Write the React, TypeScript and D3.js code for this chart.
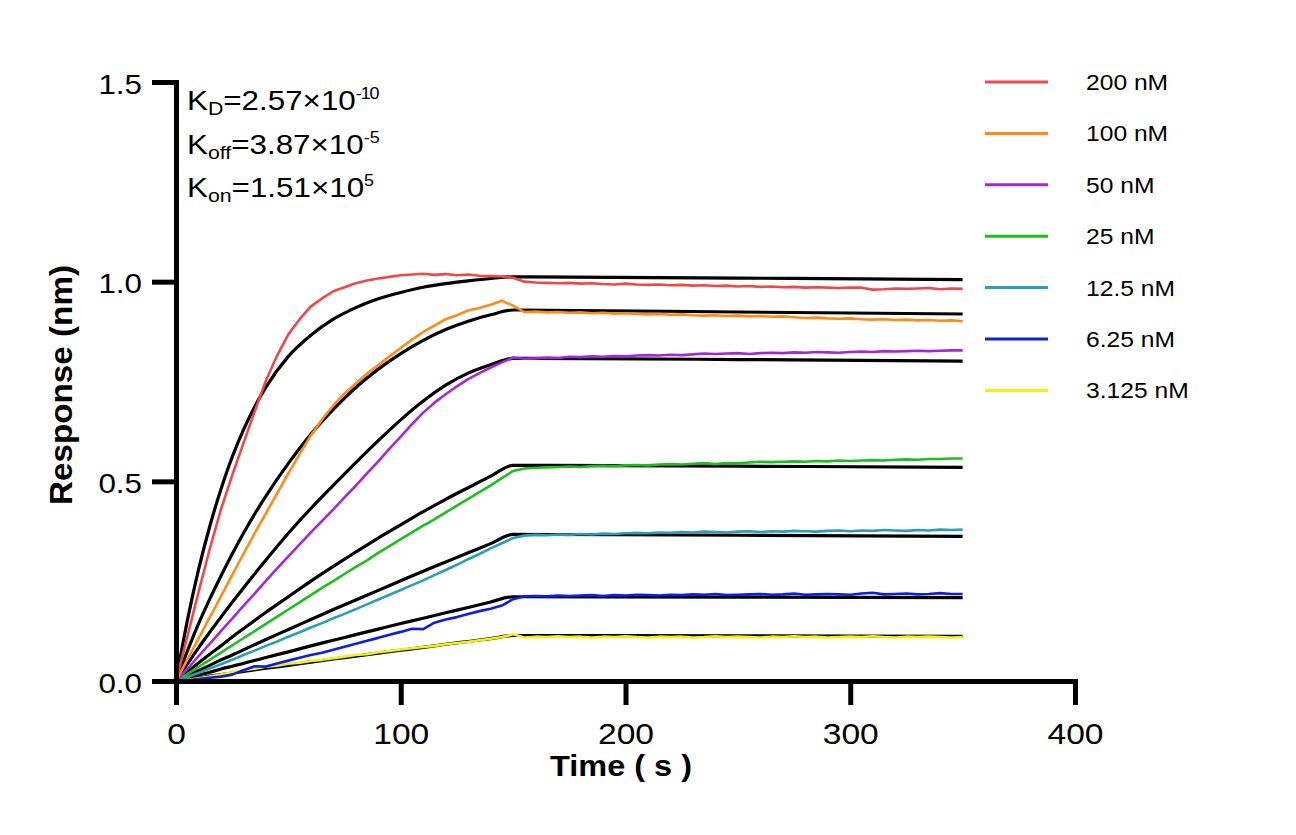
import React, { useEffect, useRef } from "react";
import * as d3 from "d3";

const W = 1296;
const H = 835;
const FONT = "Arial, 'Liberation Sans', Helvetica, sans-serif";
const SX = 1.12;

const concentrations = ["200 nM", "100 nM", "50 nM", "25 nM", "12.5 nM", "6.25 nM", "3.125 nM"];
const colors = ["#F04848", "#FF8A14", "#A526DC", "#1EBE1E", "#2A9EB2", "#0E1CE6", "#F4F20A"];

const xTicks = [0, 100, 200, 300, 400];
const yTicks = [0, 0.5, 1.0, 1.5];

// measured time grid (s) for the raw sensorgrams
const tRaw = d3.range(0, 355, 5);

const raw200 = [
  0, 0.11, 0.222, 0.33, 0.43, 0.515, 0.595, 0.675, 0.752, 0.815, 0.868, 0.906, 0.938, 0.958, 0.976, 0.986,
  0.996, 1.003, 1.008, 1.012, 1.016, 1.018, 1.02, 1.017, 1.019, 1.016, 1.018, 1.015, 1.014, 1.013, 1.01,
  1.0, 0.998, 0.997, 0.996, 0.997, 0.995, 0.996, 0.994, 0.993, 0.995, 0.993, 0.992, 0.993, 0.991, 0.992,
  0.99, 0.991, 0.989, 0.99, 0.988, 0.989, 0.987, 0.988, 0.986, 0.987, 0.985, 0.986, 0.985, 0.984, 0.985,
  0.985, 0.98, 0.981, 0.983, 0.982, 0.983, 0.984, 0.981, 0.983, 0.982,
];
const raw100 = [
  0, 0.053, 0.106, 0.159, 0.212, 0.265, 0.318, 0.37, 0.42, 0.47, 0.52, 0.568, 0.615, 0.655, 0.69, 0.72,
  0.745, 0.77, 0.791, 0.813, 0.834, 0.855, 0.874, 0.89, 0.906, 0.916, 0.928, 0.934, 0.942, 0.952, 0.94,
  0.924, 0.925, 0.923, 0.924, 0.922, 0.923, 0.921, 0.922, 0.92, 0.921, 0.919, 0.918, 0.919, 0.917, 0.918,
  0.916, 0.915, 0.916, 0.914, 0.915, 0.913, 0.914, 0.912, 0.913, 0.911, 0.909, 0.91, 0.908, 0.907, 0.908,
  0.906, 0.905, 0.906, 0.904, 0.905, 0.903, 0.904, 0.902, 0.903, 0.901,
];
const raw50 = [
  0, 0.03, 0.062, 0.093, 0.125, 0.156, 0.188, 0.219, 0.251, 0.282, 0.312, 0.342, 0.372, 0.401, 0.43, 0.46,
  0.489, 0.52, 0.55, 0.582, 0.612, 0.643, 0.672, 0.697, 0.718, 0.738, 0.756, 0.771, 0.785, 0.798, 0.81,
  0.807, 0.808, 0.81, 0.809, 0.812, 0.811, 0.813, 0.812, 0.814, 0.813, 0.815, 0.816, 0.815, 0.817, 0.816,
  0.818, 0.82, 0.819, 0.82, 0.821, 0.819, 0.821, 0.822, 0.821, 0.823, 0.822, 0.824, 0.823, 0.822, 0.824,
  0.825, 0.824, 0.826, 0.825, 0.826, 0.827, 0.826, 0.827, 0.828, 0.828,
];
const raw25 = [
  0, 0.017, 0.035, 0.053, 0.071, 0.089, 0.107, 0.125, 0.143, 0.161, 0.179, 0.197, 0.215, 0.233, 0.25, 0.268,
  0.286, 0.302, 0.321, 0.338, 0.355, 0.372, 0.389, 0.405, 0.422, 0.439, 0.456, 0.473, 0.49, 0.508, 0.526,
  0.532, 0.534, 0.535, 0.536, 0.537, 0.536, 0.538, 0.539, 0.538, 0.54, 0.541, 0.54, 0.542, 0.543, 0.542,
  0.544, 0.546, 0.543, 0.546, 0.545, 0.547, 0.549, 0.548, 0.549, 0.55, 0.549, 0.551, 0.55, 0.552, 0.551,
  0.552, 0.553, 0.552, 0.554, 0.555, 0.554, 0.556, 0.556, 0.557, 0.557,
];
const raw12_5 = [
  0, 0.01, 0.02, 0.031, 0.042, 0.053, 0.065, 0.076, 0.088, 0.099, 0.111, 0.122, 0.134, 0.145, 0.157, 0.168,
  0.18, 0.192, 0.204, 0.216, 0.228, 0.24, 0.252, 0.265, 0.278, 0.291, 0.305, 0.318, 0.332, 0.345, 0.358,
  0.364, 0.366, 0.365, 0.367, 0.366, 0.368, 0.367, 0.369, 0.368, 0.37, 0.371, 0.37, 0.372, 0.371, 0.373,
  0.372, 0.374, 0.373, 0.372, 0.374, 0.375, 0.373, 0.375, 0.374, 0.376, 0.375, 0.374, 0.376, 0.377, 0.375,
  0.377, 0.376, 0.378, 0.377, 0.376, 0.378, 0.377, 0.379, 0.378, 0.379,
];
const raw6_25 = [
  0, 0.002, 0.005, 0.008, 0.011, 0.016, 0.027, 0.037, 0.036, 0.044, 0.051, 0.058, 0.065, 0.071, 0.078, 0.086,
  0.093, 0.101, 0.108, 0.116, 0.123, 0.131, 0.13, 0.146, 0.154, 0.16, 0.168, 0.175, 0.181, 0.189, 0.205,
  0.212, 0.213, 0.212, 0.214, 0.213, 0.214, 0.215, 0.213, 0.215, 0.214, 0.216, 0.215, 0.214, 0.216, 0.215,
  0.217, 0.216, 0.218, 0.215, 0.216, 0.217, 0.218, 0.216, 0.217, 0.219, 0.216, 0.217, 0.218, 0.217, 0.216,
  0.219, 0.221, 0.217, 0.218, 0.219, 0.217, 0.218, 0.22, 0.218, 0.218,
];
const raw3_125 = [
  0, 0.003, 0.007, 0.011, 0.016, 0.022, 0.027, 0.031, 0.036, 0.038, 0.043, 0.046, 0.05, 0.053, 0.057, 0.061,
  0.065, 0.067, 0.072, 0.075, 0.079, 0.082, 0.085, 0.088, 0.092, 0.095, 0.098, 0.102, 0.106, 0.11, 0.117,
  0.109, 0.111, 0.11, 0.112, 0.11, 0.111, 0.109, 0.111, 0.11, 0.112, 0.11, 0.109, 0.111, 0.11, 0.111,
  0.109, 0.11, 0.112, 0.11, 0.111, 0.11, 0.109, 0.111, 0.11, 0.112, 0.11, 0.111, 0.109, 0.11, 0.111,
  0.11, 0.112, 0.11, 0.109, 0.111, 0.11, 0.111, 0.11, 0.109, 0.11,
];

// fitted curves (1:1 model), read at these times
const tFit = [0, 5, 10, 15, 20, 25, 30, 40, 50, 60, 70, 80, 90, 100, 110, 120, 130, 140, 150, 250, 350];
const fit200 = [0, 0.15, 0.278, 0.387, 0.48, 0.561, 0.629, 0.736, 0.813, 0.866, 0.906, 0.935, 0.957, 0.973, 0.986, 0.995, 1.002, 1.008, 1.012, 1.009, 1.005];
const fit100 = [0, 0.074, 0.143, 0.205, 0.263, 0.318, 0.37, 0.463, 0.545, 0.618, 0.68, 0.735, 0.781, 0.82, 0.853, 0.88, 0.901, 0.917, 0.929, 0.924, 0.919];
const fit50 = [0, 0.042, 0.083, 0.122, 0.16, 0.197, 0.233, 0.303, 0.37, 0.432, 0.49, 0.547, 0.602, 0.654, 0.701, 0.741, 0.771, 0.792, 0.808, 0.805, 0.801];
const fit25 = [0, 0.023, 0.045, 0.067, 0.088, 0.11, 0.131, 0.172, 0.211, 0.25, 0.287, 0.323, 0.358, 0.391, 0.424, 0.455, 0.484, 0.513, 0.54, 0.538, 0.535];
const fit12_5 = [0, 0.013, 0.026, 0.039, 0.053, 0.065, 0.078, 0.104, 0.129, 0.154, 0.179, 0.203, 0.227, 0.251, 0.275, 0.298, 0.321, 0.344, 0.367, 0.365, 0.362];
const fit6_25 = [0, 0.0075, 0.015, 0.022, 0.03, 0.037, 0.044, 0.059, 0.073, 0.088, 0.102, 0.116, 0.13, 0.144, 0.157, 0.171, 0.184, 0.198, 0.211, 0.21, 0.209];
const fit3_125 = [0, 0.004, 0.008, 0.012, 0.016, 0.02, 0.024, 0.032, 0.039, 0.047, 0.055, 0.062, 0.07, 0.077, 0.084, 0.092, 0.099, 0.106, 0.114, 0.113, 0.112];

const rawSeries = [raw200, raw100, raw50, raw25, raw12_5, raw6_25, raw3_125];
const fitSeries = [fit200, fit100, fit50, fit25, fit12_5, fit6_25, fit3_125];

const x = d3.scaleLinear().domain([0, 400]).range([176, 1075]);
const y = d3.scaleLinear().domain([0, 1.5]).range([681, 82]);

const pair = (ts: number[], vs: number[]) =>
  vs.slice(0, Math.min(ts.length, vs.length)).map((v, i) => [ts[i], v] as [number, number]);

const rawLine = d3
  .line<[number, number]>()
  .x((d) => x(d[0]))
  .y((d) => y(d[1]))
  .curve(d3.curveLinear);
const fitLine = d3
  .line<[number, number]>()
  .x((d) => x(d[0]))
  .y((d) => y(d[1]))
  .curve(d3.curveMonotoneX);

export default function App() {
  const axRef = useRef<SVGGElement>(null);

  useEffect(() => {
    const g = d3.select(axRef.current);
    g.selectAll("*").remove();

    const xa = g
      .append("g")
      .attr("transform", `translate(0,${y(0)})`)
      .call(
        d3
          .axisBottom(x)
          .tickValues(xTicks)
          .tickSize(24)
          .tickSizeOuter(0)
          .tickFormat(d3.format("d") as any)
      );
    xa.attr("font-family", FONT).attr("font-size", 30).attr("color", "#000");
    xa.select(".domain").attr("stroke-width", 5).attr("stroke-linecap", "square");
    xa.selectAll(".tick line").attr("stroke-width", 5);
    xa.selectAll(".tick text")
      .attr("y", null)
      .attr("dy", null)
      .attr("fill", "#000")
      .attr("transform", `translate(0,63) scale(${SX},1)`);

    const ya = g
      .append("g")
      .attr("transform", `translate(${x(0)},0)`)
      .call(
        d3
          .axisLeft(y)
          .tickValues(yTicks)
          .tickSize(24)
          .tickSizeOuter(0)
          .tickFormat(d3.format(".1f") as any)
      );
    ya.attr("font-family", FONT).attr("font-size", 28).attr("color", "#000");
    ya.select(".domain").attr("stroke-width", 5).attr("stroke-linecap", "square");
    ya.selectAll(".tick line").attr("stroke-width", 5);
    ya.selectAll(".tick text")
      .attr("x", null)
      .attr("dy", null)
      .attr("fill", "#000")
      .attr("text-anchor", "end")
      .attr("transform", `translate(-34,11) scale(${SX},1)`);
  }, []);

  const legendY0 = 82;
  const legendStep = 51.4;

  return (
    <svg
      width={W}
      height={H}
      viewBox={`0 0 ${W} ${H}`}
      style={{ position: "absolute", left: 0, top: 0, display: "block", background: "#fff" }}
      fontFamily={FONT}
    >
      <rect x={0} y={0} width={W} height={H} fill="#fff" />

      {/* fitted curves */}
      <g fill="none" stroke="#000" strokeWidth={3.2}>
        {fitSeries.map((s, i) => (
          <path key={"f" + i} d={fitLine(pair(tFit, s)) || ""} />
        ))}
      </g>

      {/* raw sensorgrams */}
      <g fill="none" strokeWidth={2.6} strokeLinejoin="round">
        {rawSeries
          .map((s, i) => ({ s, i }))
          .reverse()
          .map(({ s, i }) => (
            <path key={"r" + i} d={rawLine(pair(tRaw, s)) || ""} stroke={colors[i]} />
          ))}
      </g>

      <g ref={axRef} />

      {/* axis titles */}
      <text
        transform={`translate(72,385) rotate(-90) scale(1,${SX})`}
        textAnchor="middle"
        fontWeight="bold"
        fontSize={28}
        textLength={240}
        lengthAdjust="spacingAndGlyphs"
        fill="#000"
      >
        Response (nm)
      </text>
      <text
        transform={`translate(621,776) scale(${SX},1)`}
        textAnchor="middle"
        fontWeight="bold"
        fontSize={29}
        fill="#000"
      >
        Time ( s )
      </text>

      {/* kinetic constants */}
      <g fill="#000">
        <text transform={`translate(187,110) scale(${SX},1)`} fontSize={28}>
          <tspan>K</tspan>
          <tspan fontSize={19} dy={5}>D</tspan>
          <tspan dy={-5}>=2.57×10</tspan>
          <tspan fontSize={16} dy={-11} letterSpacing={-1}>-10</tspan>
        </text>
        <text transform={`translate(187,154) scale(${SX},1)`} fontSize={28}>
          <tspan>K</tspan>
          <tspan fontSize={19} dy={5}>off</tspan>
          <tspan dy={-5}>=3.87×10</tspan>
          <tspan fontSize={16} dy={-11}>-5</tspan>
        </text>
        <text transform={`translate(187,197) scale(${SX},1)`} fontSize={28}>
          <tspan>K</tspan>
          <tspan fontSize={19} dy={5}>on</tspan>
          <tspan dy={-5}>=1.51×10</tspan>
          <tspan fontSize={16} dy={-11}>5</tspan>
        </text>
      </g>

      {/* legend */}
      <g>
        {concentrations.map((c, i) => {
          const ly = legendY0 + i * legendStep;
          return (
            <g key={c}>
              <line x1={985} x2={1048} y1={ly} y2={ly} stroke={colors[i]} strokeWidth={3} />
              <text
                transform={`translate(1086,${ly + 8}) scale(${SX},1)`}
                fontSize={22}
                fill="#000"
              >
                {c}
              </text>
            </g>
          );
        })}
      </g>
    </svg>
  );
}
